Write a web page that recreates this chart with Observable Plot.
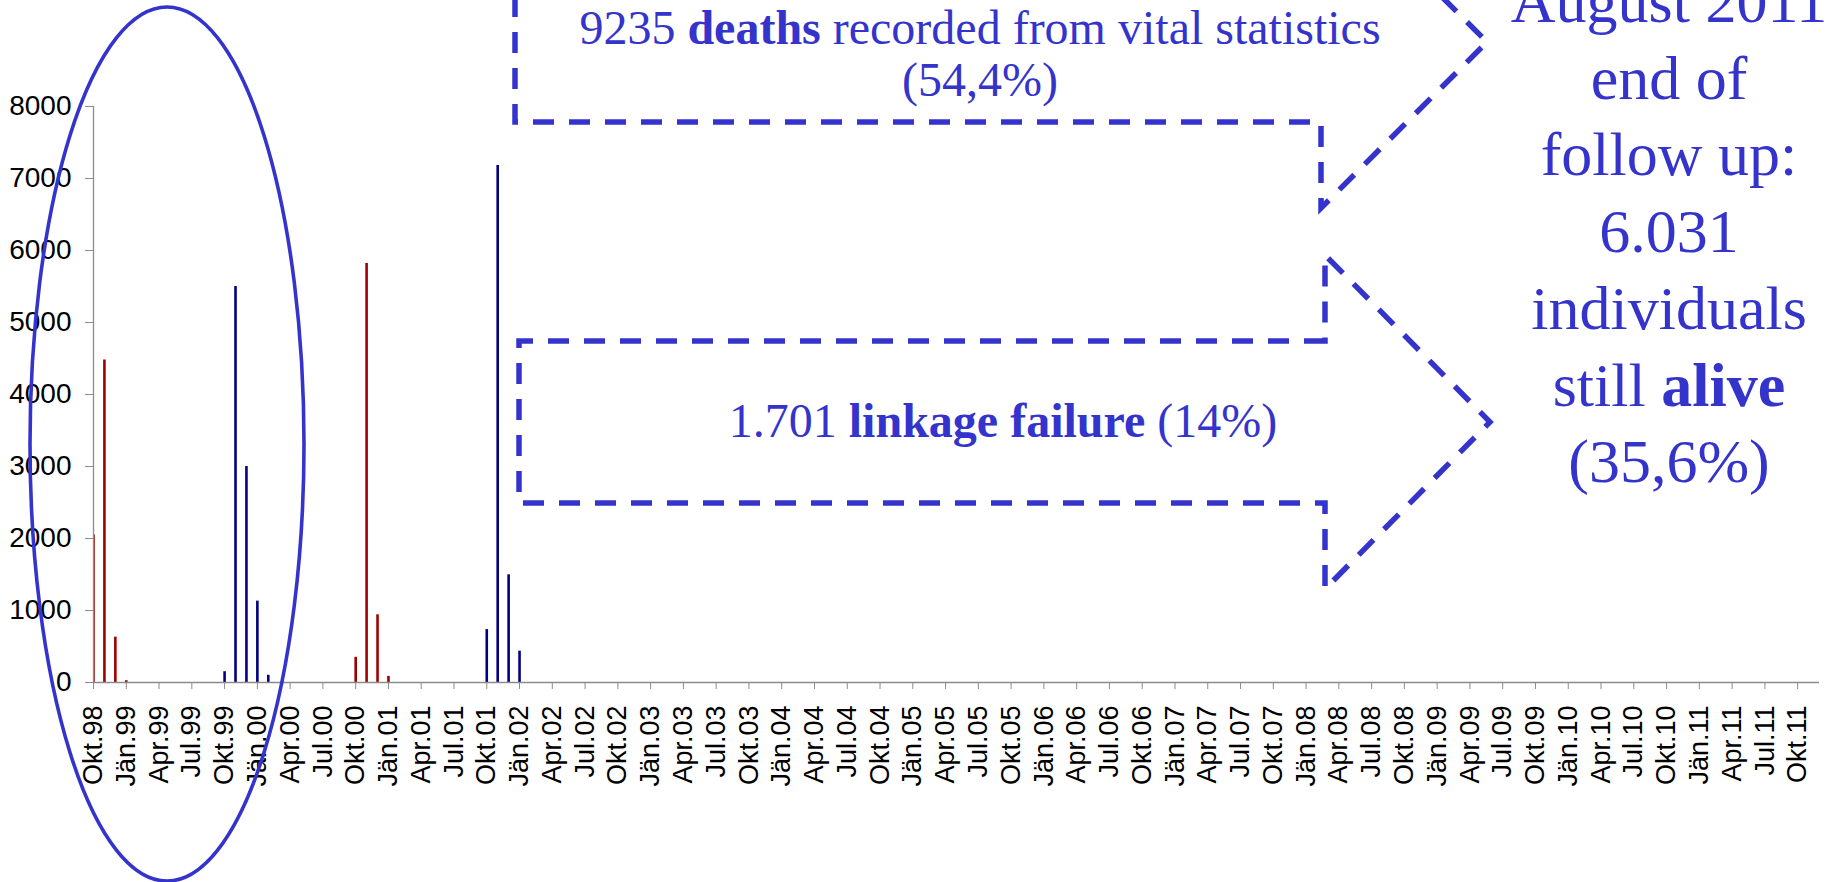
<!DOCTYPE html>
<html>
<head>
<meta charset="utf-8">
<script src="https://cdn.jsdelivr.net/npm/d3@7"></script>
<script src="https://cdn.jsdelivr.net/npm/@observablehq/plot@0.6"></script>
<style>
  html, body { margin: 0; padding: 0; background: #ffffff; }
  #chart { width: 1829px; height: 882px; overflow: hidden; }
</style>
</head>
<body>
<div id="chart"></div>
<script>
// ---- Categories (monthly, Okt.98 .. Dez.11) ----
const monthNames = ["Jän","Feb","Mär","Apr","Mai","Jun","Jul","Aug","Sep","Okt","Nov","Dez"];
const firstYear = 1998, firstMonth = 9, lastYear = 2011, lastMonth = 11;
const months = [];
for (let y = firstYear; y <= lastYear; y++) {
  for (let m = 0; m < 12; m++) {
    if (y === firstYear && m < firstMonth) continue;
    if (y === lastYear && m > lastMonth) continue;
    months.push(monthNames[m] + "." + String(y % 100).padStart(2, "0"));
  }
}
const xTickLabels = months.filter((d, i) => i % 3 === 0);
const yTicks = [0, 1000, 2000, 3000, 4000, 5000, 6000, 7000, 8000];

// ---- Series (red) ----
const redMonths = ["Okt.98", "Nov.98", "Dez.98", "Jän.99", "Okt.00", "Nov.00", "Dez.00", "Jän.01"];
const redValues = [2050, 4480, 630, 25, 350, 5820, 940, 85];

// ---- Series (navy) ----
const navyMonths = ["Okt.99", "Nov.99", "Dez.99", "Jän.00", "Feb.00", "Okt.01", "Nov.01", "Dez.01", "Jän.02"];
const navyValues = [150, 5500, 3000, 1130, 100, 735, 7180, 1495, 435];

const redData = redMonths.map((m, i) => ({month: m, value: redValues[i]}));
const navyData = navyMonths.map((m, i) => ({month: m, value: navyValues[i]}));

const axisGrey = "#8c8c8c";
const blue = "#3434cc";

const plot = Plot.plot({
  width: 1829,
  height: 882,
  marginLeft: 93,
  marginRight: 10,
  marginTop: 106,
  marginBottom: 200,
  style: {fontFamily: "'Liberation Sans', Arial, sans-serif", background: "#ffffff", overflow: "hidden"},
  x: {type: "point", domain: months, padding: 0},
  y: {domain: [0, 8000]},
  marks: [
    Plot.ruleX(redData, {x: "month", y1: 0, y2: "value", stroke: "#a00000", strokeWidth: 2.6, clip: true}),
    Plot.ruleX(navyData, {x: "month", y1: 0, y2: "value", stroke: "#000080", strokeWidth: 2.6, clip: true}),
    Plot.ruleY([0], {stroke: axisGrey, strokeWidth: 1.3}),
    Plot.ruleX([months[0]], {y1: 0, y2: 8000, stroke: axisGrey, strokeWidth: 1.3}),
    Plot.axisY({
      ticks: yTicks, tickSize: 8, tickPadding: 14, tickFormat: d3.format("d"),
      stroke: axisGrey, fill: "#000000", fontSize: 28, label: null
    }),
    Plot.axisX({
      ticks: xTickLabels, tickSize: 7, tickPadding: 16, tickRotate: -90,
      stroke: axisGrey, fill: "#000000", fontSize: 27, label: null
    })
  ]
});

document.getElementById("chart").appendChild(plot);

// ---- Annotation overlay (dashed arrows, texts, ellipse) ----
const svg = d3.select(plot);
const g = svg.append("g").attr("class", "annotations");

const dash = "21 15";
// upper arrow (mostly off the top)
g.append("path")
  .attr("d", "M515,-40 L515,122 L1321,122 L1321,208 L1487,42 L1321,-124")
  .attr("fill", "none").attr("stroke", blue).attr("stroke-width", 5.5)
  .attr("stroke-dasharray", dash);
// lower arrow
g.append("path")
  .attr("d", "M1325,341 L519,341 L519,503 L1325,503 L1325,589 L1490,422 L1325,255 Z")
  .attr("fill", "none").attr("stroke", blue).attr("stroke-width", 5.5)
  .attr("stroke-dasharray", dash);

const serif = "'Liberation Serif', 'Times New Roman', serif";

function richText(x, y, size, parts) {
  const t = g.append("text")
    .attr("x", x).attr("y", y)
    .attr("text-anchor", "middle")
    .attr("font-family", serif)
    .attr("font-size", size)
    .attr("fill", blue);
  parts.forEach(([s, bold]) => {
    t.append("tspan").attr("font-weight", bold ? "bold" : "normal").text(s);
  });
}

richText(980, 44, 48, [["9235 ", false], ["deaths", true], [" recorded from vital statistics", false]]);
richText(980, 96, 48, [["(54,4%)", false]]);
richText(1003, 437, 48, [["1.701 ", false], ["linkage failure", true], [" (14%)", false]]);

const rightLines = [
  [["August 2011", false]],
  [["end of", false]],
  [["follow up:", false]],
  [["6.031", false]],
  [["individuals", false]],
  [["still ", false], ["alive", true]],
  [["(35,6%)", false]]
];
rightLines.forEach((parts, i) => richText(1669, 22 + i * 76.7, 62, parts));

// ellipse
g.append("ellipse")
  .attr("cx", 167).attr("cy", 444).attr("rx", 137).attr("ry", 437)
  .attr("fill", "none").attr("stroke", blue).attr("stroke-width", 3.6);
</script>
</body>
</html>
